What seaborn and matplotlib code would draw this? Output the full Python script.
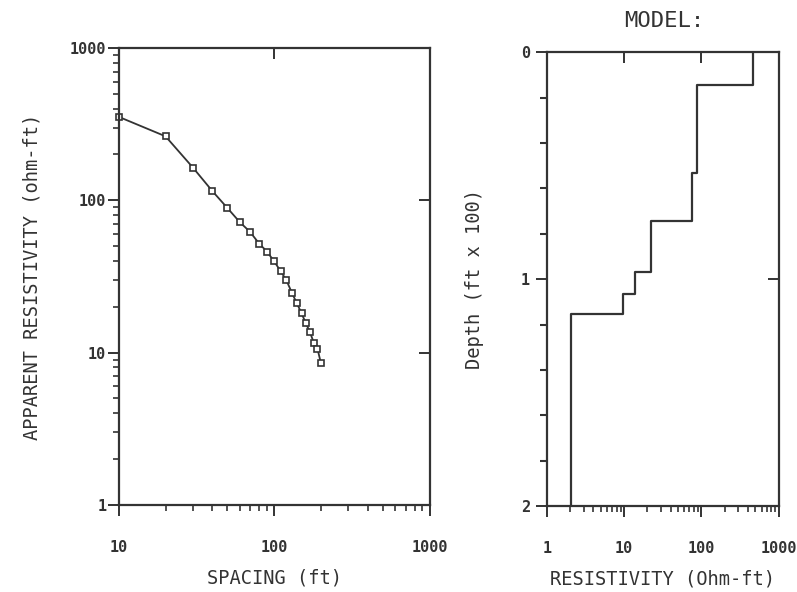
import numpy as np
import pandas as pd
import matplotlib
matplotlib.use("Agg")
import matplotlib.pyplot as plt
import matplotlib.ticker as mticker
import seaborn as sns

# sounding curve: electrode spacing (ft) vs apparent resistivity (ohm-ft)
spacing = [10, 20, 30, 40, 50, 60, 70, 80, 90, 100,
           110, 120, 130, 140, 150, 160, 170, 180, 190, 200]
app_res = [353, 263, 164, 115, 89, 72, 62, 52, 46, 39.7,
           34.3, 29.8, 24.7, 21.1, 18.1, 15.6, 13.6, 11.6, 10.6, 8.5]

# layered model: resistivity (Ohm-ft) and top depth (ft x 100)
layer_res = [460, 87, 75, 22, 14, 9.6, 2.05]
layer_top = [0.0, 0.146, 0.534, 0.742, 0.967, 1.064, 1.152]
depth_max = 2.0
depth_minor = [0.2, 0.4, 0.6, 0.8, 1.2, 1.4, 1.6, 1.8]

sns.set_style("white")
plt.rcParams['font.family'] = ['DejaVu Sans Mono', 'DejaVu Sans']
ink = '#333333'
plt.rcParams['axes.edgecolor'] = ink
plt.rcParams['xtick.color'] = ink
plt.rcParams['ytick.color'] = ink
plt.rcParams['text.color'] = ink
plt.rcParams['axes.labelcolor'] = ink

fig = plt.figure(figsize=(7.97, 5.92), dpi=100)
ax1 = fig.add_axes([0.149, 0.147, 0.390, 0.772])
ax2 = fig.add_axes([0.686, 0.145, 0.291, 0.767])

tick_font = dict(family='DejaVu Sans Mono', size=11, weight='bold')
label_size = 13.5


def plain(v, pos):
    return f"{v:g}"


def style_axes(ax):
    for s in ax.spines.values():
        s.set_linewidth(1.6)
        s.set_color(ink)
    ax.tick_params(which='major', direction='out', length=8, width=1.4,
                   bottom=True, left=True, top=False, right=False)
    ax.tick_params(which='minor', direction='out', length=4, width=1.2,
                   bottom=True, left=True, top=False, right=False)
    for lab in ax.get_xticklabels() + ax.get_yticklabels():
        lab.set_fontproperties(tick_font)


def inner_ticks(ax):
    # major ticks only, pointing inward on the top and right spines
    ov = fig.add_axes(ax.get_position(), sharex=ax, sharey=ax)
    ov.patch.set_visible(False)
    for s in ov.spines.values():
        s.set_visible(False)
    ov.tick_params(which='major', direction='in', length=8, width=1.4,
                   bottom=False, left=False, top=True, right=True,
                   labelbottom=False, labelleft=False)
    ov.tick_params(which='minor', length=0, bottom=False, left=False,
                   top=False, right=False)
    ov.grid(False)
    return ov


# left: apparent resistivity curve
df = pd.DataFrame({'spacing': spacing, 'rho': app_res})
sns.lineplot(data=df, x='spacing', y='rho', ax=ax1, color=ink, lw=1.3,
             marker='s', markersize=4.5, markerfacecolor='white',
             markeredgecolor=ink, markeredgewidth=1.2, clip_on=False)
ax1.set_xscale('log')
ax1.set_yscale('log')
ax1.set_xlim(10, 1000)
ax1.set_ylim(1, 1000)
ax1.set_xticks([10, 100, 1000])
ax1.set_yticks([1, 10, 100, 1000])
ax1.xaxis.set_major_formatter(mticker.FuncFormatter(plain))
ax1.yaxis.set_major_formatter(mticker.FuncFormatter(plain))
ax1.xaxis.set_minor_formatter(mticker.NullFormatter())
ax1.yaxis.set_minor_formatter(mticker.NullFormatter())
style_axes(ax1)
ax1.tick_params(axis='x', which='major', pad=17)
ax1.tick_params(axis='y', which='major', pad=1)
ax1.set_xlabel('SPACING (ft)', fontsize=label_size)
ax1.set_ylabel('APPARENT RESISTIVITY (ohm-ft)', fontsize=label_size)
ax1.xaxis.set_label_coords(0.5, -0.14)
ax1.yaxis.set_label_coords(-0.25, 0.5)
inner_ticks(ax1)

# right: layered model as a step profile
edges = list(layer_top[1:]) + [depth_max]
path_x = np.repeat(layer_res, 2)
path_y = np.column_stack([layer_top, edges]).ravel()
mdf = pd.DataFrame({'res': path_x, 'depth': path_y})
sns.lineplot(data=mdf, x='res', y='depth', ax=ax2, color=ink, lw=1.6,
             sort=False, estimator=None)
ax2.set_xscale('log')
ax2.set_xlim(1, 1000)
ax2.set_ylim(depth_max, 0)
ax2.set_xticks([1, 10, 100, 1000])
ax2.xaxis.set_major_formatter(mticker.FuncFormatter(plain))
ax2.xaxis.set_minor_formatter(mticker.NullFormatter())
ax2.set_yticks([0, 1, 2])
ax2.yaxis.set_minor_locator(mticker.FixedLocator(depth_minor))
style_axes(ax2)
ax2.tick_params(axis='y', which='minor', length=5, width=1.5)
ax2.tick_params(axis='x', which='major', pad=17)
ax2.tick_params(axis='y', which='major', pad=4)
ax2.set_xlabel('RESISTIVITY (Ohm-ft)', fontsize=label_size)
ax2.set_ylabel('Depth (ft x 100)', fontsize=label_size)
ax2.xaxis.set_label_coords(0.5, -0.14)
ax2.yaxis.set_label_coords(-0.27, 0.5)
inner_ticks(ax2)

fig.text(0.834, 0.965, 'MODEL:', ha='center', va='center', fontsize=16,
         family='DejaVu Sans Mono', color=ink)

fig.savefig('out.png', dpi=100)
